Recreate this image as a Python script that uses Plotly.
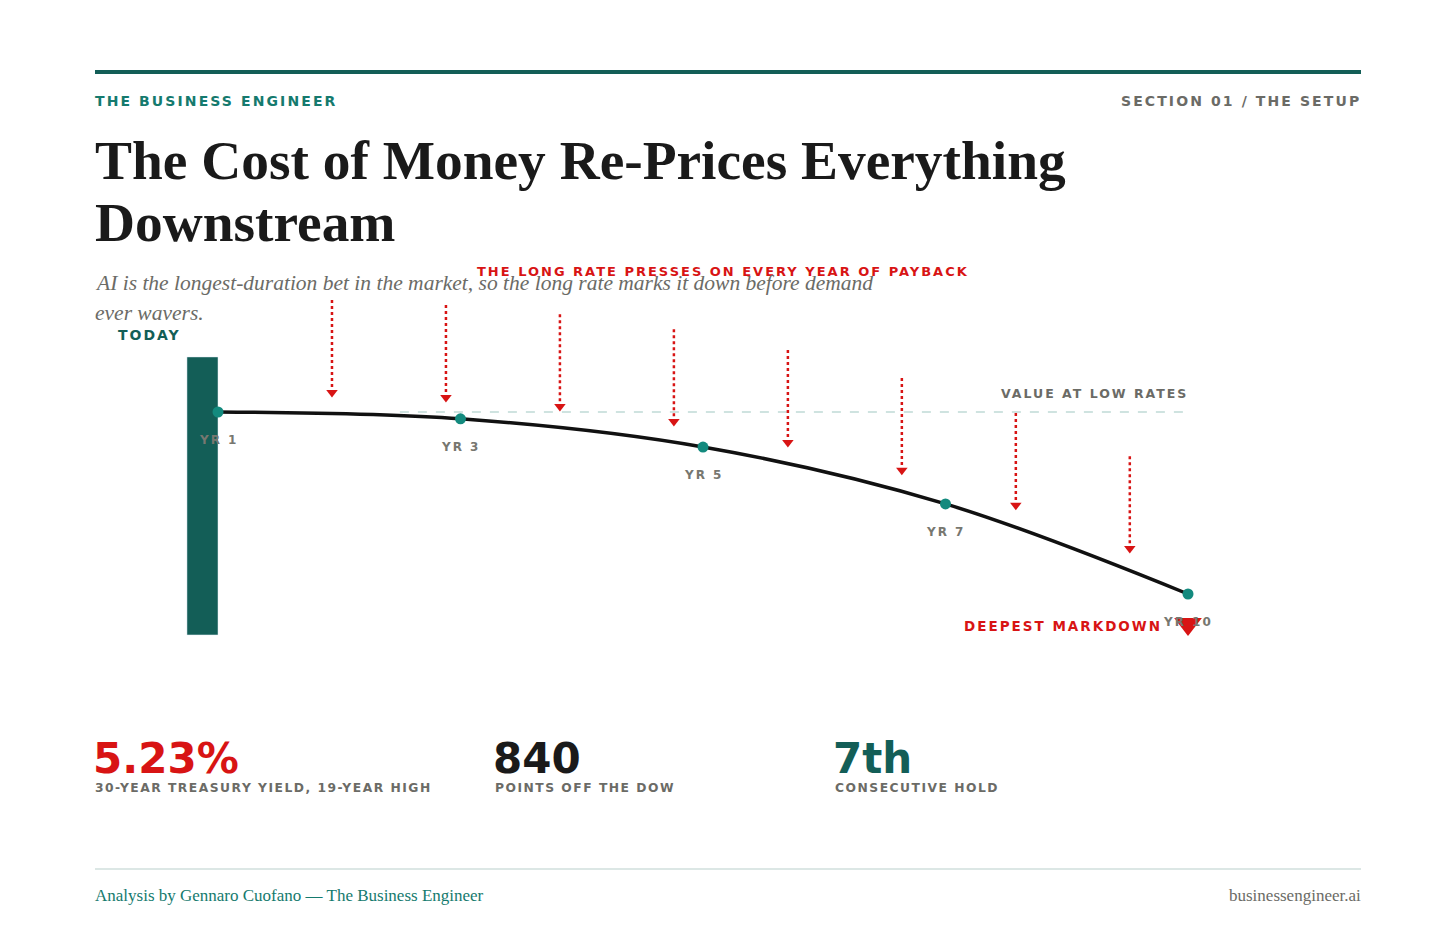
import plotly.graph_objects as go

# ---- data ----
year_labels = ["YR 1", "YR 3", "YR 5", "YR 7", "YR 10"]
horizon_idx = [0, 1, 2, 3, 4]
value = [100, 98.5, 92.3, 79.8, 60.0]
low_rate_value = 100
arrow_x = [0.47, 0.94, 1.41, 1.88, 2.35, 2.82, 3.29, 3.76]
arrow_tip = [103.1, 102.0, 100.0, 96.7, 92.1, 86.0, 78.3, 68.8]
arrow_len = 21.5
today_bar_base = 51.0
today_bar_top = 112.1
markdown_value = 53.4
stats = ["5.23%", "840", "7th"]
stat_labels = ["30-YEAR TREASURY YIELD, 19-YEAR HIGH", "POINTS OFF THE DOW", "CONSECUTIVE HOLD"]

W, H = 1456, 947
OFF = 8  # page body margin
PXX = 242.5
PXY = 4.55
x0 = -(218 - OFF) / PXX
x1 = x0 + W / PXX
ytop = 100 + (412 - OFF) / PXY
ybot = ytop - H / PXY

TEAL = "#135e57"
DOT = "#138a7e"
RED = "#d81414"
GREY = "#6b6b66"

fig = go.Figure()

fig.add_trace(go.Bar(x=[-0.064], y=[today_bar_top - today_bar_base], base=[today_bar_base],
                     width=[0.128], marker_color=TEAL, hoverinfo="skip"))
fig.add_trace(go.Scatter(x=[0.75, 4], y=[low_rate_value] * 2, mode="lines",
                         line=dict(color="#cfe3e0", width=2, dash="dash")))
for ax, tip in zip(arrow_x, arrow_tip):
    fig.add_trace(go.Scatter(x=[ax, ax], y=[tip + arrow_len, tip + 2], mode="lines",
                             line=dict(color=RED, width=2.5, dash="dot")))
fig.add_trace(go.Scatter(x=arrow_x, y=[t + 1.2 for t in arrow_tip], mode="markers",
                         marker=dict(symbol="triangle-down", size=10, color=RED)))
fig.add_trace(go.Scatter(x=horizon_idx, y=value, mode="lines", line_shape="spline",
                         line=dict(color="#111111", width=3.5)))
fig.add_trace(go.Scatter(x=horizon_idx, y=value, mode="markers",
                         marker=dict(color=DOT, size=11)))
fig.add_trace(go.Scatter(x=[4], y=[markdown_value], mode="markers",
                         marker=dict(symbol="triangle-down", size=24, color=RED)))

ann = []
def txt(x, y, t, size, color, family="DejaVu Sans", xanchor="left", yanchor="middle", ls=None):
    if ls is not None:
        t = '<span style="letter-spacing:%spx">%s</span>' % (ls, t)
    ann.append(dict(x=x, y=y, text=t, xref="x", yref="y", showarrow=False, borderpad=0,
                    xanchor=xanchor, yanchor=yanchor, font=dict(size=size, color=color, family=family)))

for xi, v, lab in zip(horizon_idx, value, year_labels):
    txt(xi, v - 6.2, "<b>" + lab + "</b>", 12, "#777770", xanchor="center", ls=2)

def px(xp): return x0 + (xp - OFF) / PXX
def py(yp): return ytop - (yp - OFF) / PXY

txt(px(149), py(335), "<b>TODAY</b>", 14, TEAL, xanchor="center", ls=2)
txt(px(723), py(271), "<b>THE LONG RATE PRESSES ON EVERY YEAR OF PAYBACK</b>", 13, RED, xanchor="center", ls=2)
txt(px(1189), py(393), "<b>VALUE AT LOW RATES</b>", 12.5, GREY, xanchor="right", ls=2)
txt(px(1163), py(626), "<b>DEEPEST MARKDOWN</b>", 13.5, RED, xanchor="right", ls=2)

txt(px(94), py(101), "<b>THE BUSINESS ENGINEER</b>", 14, "#157a6e", ls=2.1)
txt(px(1362), py(101), "<b>SECTION 01 / THE SETUP</b>", 14, GREY, xanchor="right", ls=2.1)
txt(px(94), py(160), "<b>The Cost of Money Re-Prices Everything</b>", 55.4, "#1a1a1a", family="Liberation Serif")
txt(px(94), py(222), "<b>Downstream</b>", 55.4, "#1a1a1a", family="Liberation Serif")
txt(px(94), py(283), "<i>AI is the longest-duration bet in the market, so the long rate marks it down before demand</i>",
    21.5, GREY, family="Liberation Serif")
txt(px(94), py(313), "<i>ever wavers.</i>", 21.5, GREY, family="Liberation Serif")

stat_x = [95, 495, 835]
stat_col = [RED, "#1a1a1a", TEAL]
for sx, s, l, c in zip(stat_x, stats, stat_labels, stat_col):
    txt(px(sx - 3), py(758), "<b>" + s + "</b>", 42, c)
    txt(px(sx - 1), py(788), "<b>" + l + "</b>", 12.3, GREY, ls=1.5)

txt(px(94), py(895), "Analysis by Gennaro Cuofano — The Business Engineer", 17, "#157a6e", family="Liberation Serif")
txt(px(1362), py(895), "businessengineer.ai", 17, GREY, family="Liberation Serif", xanchor="right")

shapes = [
    dict(type="line", xref="x", yref="y", x0=px(95), x1=px(1361), y0=py(72), y1=py(72),
         line=dict(color=TEAL, width=4)),
    dict(type="line", xref="x", yref="y", x0=px(95), x1=px(1361), y0=py(869), y1=py(869),
         line=dict(color="#d0dfdd", width=1.5)),
]

fig.update_layout(
    width=W, height=H, margin=dict(l=0, r=0, t=0, b=0),
    paper_bgcolor="white", plot_bgcolor="white", showlegend=False,
    xaxis=dict(range=[x0, x1], visible=False, fixedrange=True),
    yaxis=dict(range=[ybot, ytop], visible=False, fixedrange=True),
    annotations=ann, shapes=shapes,
)
fig.write_html("out.html")
